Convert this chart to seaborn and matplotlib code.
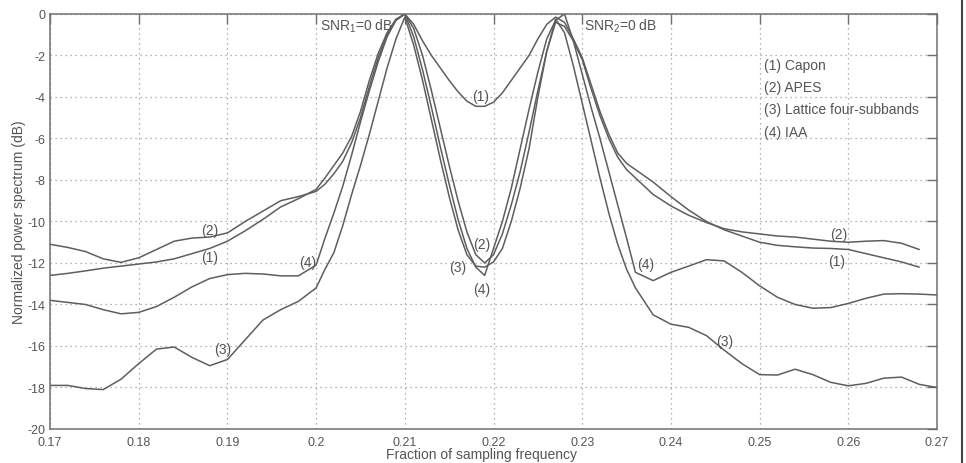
import matplotlib
matplotlib.use("Agg")
import matplotlib.pyplot as plt
import numpy as np
import pandas as pd
import seaborn as sns
from matplotlib.lines import Line2D

# ---------------- data ----------------
freq = [0.170, 0.172, 0.174, 0.176, 0.178, 0.180, 0.182, 0.184, 0.186, 0.188, 0.190, 0.192, 0.194, 0.196, 0.198, 0.200,
        0.201, 0.202, 0.203, 0.204, 0.205, 0.206, 0.207, 0.208, 0.209, 0.210,
        0.211, 0.212, 0.213, 0.214, 0.215, 0.216, 0.217, 0.218, 0.219, 0.220,
        0.221, 0.222, 0.223, 0.224, 0.225, 0.226, 0.227, 0.228, 0.229, 0.230,
        0.231, 0.232, 0.233, 0.234, 0.235, 0.236,
        0.238, 0.240, 0.242, 0.244, 0.246, 0.248, 0.250, 0.252, 0.254, 0.256, 0.258, 0.260, 0.262, 0.264, 0.266, 0.268, 0.270]

capon = [-12.6, -12.5, -12.38, -12.25, -12.15, -12.05, -11.95, -11.8, -11.55, -11.3, -10.95, -10.45, -9.9, -9.3, -8.9, -8.45,
         -7.9, -7.3, -6.7, -5.9, -4.7, -3.2, -1.9, -0.9, -0.25, 0.0,
         -0.5, -1.3, -2.0, -2.6, -3.2, -3.75, -4.2, -4.45, -4.45, -4.25,
         -3.8, -3.2, -2.6, -2.0, -1.2, -0.5, -0.15, -0.4, -1.2, -2.1,
         -3.4, -4.7, -5.8, -6.7, -7.2, -7.5,
         -8.1, -8.8, -9.45, -10.0, -10.4, -10.7, -11.0, -11.15, -11.22, -11.28, -11.3, -11.35, -11.55, -11.75, -11.95, -12.2, np.nan]

apes = [-11.1, -11.25, -11.45, -11.8, -11.97, -11.75, -11.35, -10.95, -10.8, -10.75, -10.55, -10.0, -9.5, -9.0, -8.8, -8.55,
        -8.2, -7.7, -7.1, -6.2, -5.0, -3.5, -2.1, -1.0, -0.3, 0.0,
        -0.7, -2.0, -3.7, -5.5, -7.3, -9.0, -10.5, -11.6, -12.0, -11.6,
        -10.6, -9.2, -7.6, -5.7, -3.7, -1.8, -0.4, -0.6, -1.3, -2.2,
        -3.6, -4.9, -6.0, -6.9, -7.5, -7.9,
        -8.7, -9.25, -9.7, -10.05, -10.35, -10.5, -10.6, -10.7, -10.75, -10.85, -10.95, -11.0, -10.95, -10.92, -11.05, -11.35, np.nan]

lattice = [-17.9, -17.9, -18.05, -18.1, -17.6, -16.85, -16.15, -16.05, -16.55, -16.95, -16.65, -15.7, -14.75, -14.25, -13.85, -13.2,
           -12.3, -11.5, -10.2, -8.7, -7.3, -5.8, -4.2, -2.6, -1.2, -0.15,
           -1.5, -3.2, -5.1, -7.0, -8.8, -10.4, -11.6, -12.15, -12.2, -11.95,
           -11.3, -10.0, -8.4, -6.5, -4.0, -1.8, -0.25, -0.9, -2.5, -4.3,
           -6.1, -7.9, -9.6, -11.1, -12.3, -13.2,
           -14.5, -14.95, -15.1, -15.5, -16.2, -16.85, -17.38, -17.4, -17.12, -17.38, -17.75, -17.92, -17.8, -17.55, -17.5, -17.85, -18.0]

iaa = [-13.8, -13.9, -14.0, -14.25, -14.45, -14.38, -14.1, -13.65, -13.15, -12.75, -12.56, -12.5, -12.53, -12.62, -12.62, -12.1,
       -10.8, -9.6, -8.3, -6.8, -5.2, -3.7, -2.3, -1.1, -0.3, 0.0,
       -1.1, -2.7, -4.5, -6.4, -8.2, -9.9, -11.3, -12.2, -12.6, -11.3,
       -10.0, -8.4, -6.5, -4.6, -2.8, -1.2, -0.3, 0.0, -1.3, -2.9,
       -4.5, -6.0, -7.6, -9.2, -10.8, -12.45,
       -12.85, -12.45, -12.15, -11.84, -11.9, -12.45, -13.1, -13.65, -14.0, -14.18, -14.15, -13.95, -13.7, -13.5, -13.48, -13.5, -13.54]

method_names = ["(1) Capon", "(2) APES", "(3) Lattice four-subbands", "(4) IAA"]

x_ticks = [0.17, 0.18, 0.19, 0.20, 0.21, 0.22, 0.23, 0.24, 0.25, 0.26, 0.27]
x_tick_labels = ["0.17", "0.18", "0.19", "0.2", "0.21", "0.22", "0.23", "0.24", "0.25", "0.26", "0.27"]
y_ticks = [0, -2, -4, -6, -8, -10, -12, -14, -16, -18, -20]
y_tick_labels = ["0", "-2", "-4", "-6", "-8", "-10", "-12", "-14", "-16", "-18", "-20"]

# curve labels: (text, x, y)
curve_labels = [
    ("(2)", 0.1880, -10.4), ("(1)", 0.1880, -11.7), ("(4)", 0.1991, -11.95), ("(3)", 0.1895, -16.15),
    ("(1)", 0.2185, -3.95), ("(2)", 0.2187, -11.08), ("(3)", 0.2160, -12.2), ("(4)", 0.2187, -13.25),
    ("(4)", 0.2371, -12.05), ("(3)", 0.2461, -15.74), ("(2)", 0.2589, -10.6), ("(1)", 0.2587, -11.89),
]

# ---------------- build table ----------------
frames = []
for name, vals in zip(method_names, [capon, apes, lattice, iaa]):
    frames.append(pd.DataFrame({"freq": freq, "db": vals, "method": name}))
df = pd.concat(frames, ignore_index=True).dropna()

# ---------------- style ----------------
sns.set_theme(style="white")
plt.rcParams["font.family"] = ["Liberation Sans", "DejaVu Sans"]
plt.rcParams["mathtext.fontset"] = "custom"
plt.rcParams["mathtext.rm"] = "Liberation Sans"
plt.rcParams["mathtext.it"] = "Liberation Sans"

text_c = "#555555"
line_c = "#5e5e5e"
spine_c = "#707070"

fig = plt.figure(figsize=(9.66, 4.64), dpi=100)
ax = fig.add_axes([0.0518, 0.0733, 0.9182, 0.8944])

sns.lineplot(data=df, x="freq", y="db", hue="method", units="method",
             palette=[line_c] * 4, estimator=None, sort=False, legend=False,
             linewidth=1.1, ax=ax)

ax.set_xlim(0.17, 0.27)
ax.set_ylim(-20, 0)
ax.set_xticks(x_ticks)
ax.set_xticklabels(x_tick_labels)
ax.set_yticks(y_ticks)
ax.set_yticklabels(y_tick_labels)
ax.tick_params(direction="in", length=7, width=1.0, color=spine_c, labelcolor=text_c,
               labelsize=9, top=True, right=True, pad=3)
ax.tick_params(axis="x", pad=5)
ax.grid(True, linestyle=(0, (1, 3)), color="#9a9a9a", linewidth=0.9)
for s in ax.spines.values():
    s.set_color(spine_c)
    s.set_linewidth(1.1)

ax.set_xlabel("Fraction of sampling frequency", color=text_c, fontsize=10)
ax.set_ylabel("Normalized power spectrum (dB)", color=text_c, fontsize=10)
ax.xaxis.set_label_coords(0.487, -0.043)
ax.yaxis.set_label_coords(-0.027, 0.5)

for t, x, y in curve_labels:
    ax.text(x, y, t, ha="center", va="center", fontsize=10, color=text_c)

ax.text(0.2004, -0.55, "SNR$_1$=0 dB", ha="left", va="center", fontsize=10, color=text_c)
ax.text(0.2302, -0.55, "SNR$_2$=0 dB", ha="left", va="center", fontsize=10, color=text_c)

for i, name in enumerate(method_names):
    ax.text(0.2505, -2.44 - 1.08 * i, name, ha="left", va="center", fontsize=10, color=text_c)

fig.add_artist(Line2D([0.996, 0.996], [0.0, 1.0], transform=fig.transFigure,
                      color="#444444", linewidth=1.5))

fig.savefig("out.png", dpi=100, facecolor="white")
